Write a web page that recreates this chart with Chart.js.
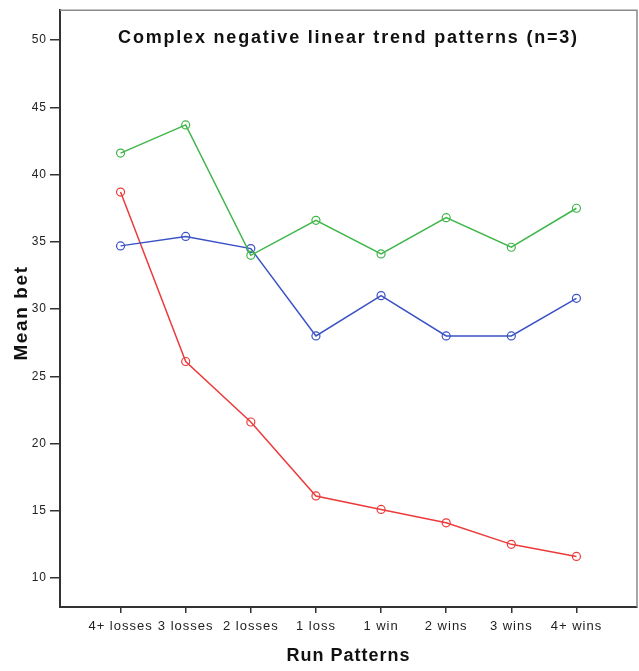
<!DOCTYPE html>
<html>
<head>
<meta charset="utf-8">
<script src="https://cdn.jsdelivr.net/npm/chart.js@4.4.0/dist/chart.umd.min.js"></script>
<style>
  html, body { margin: 0; padding: 0; background: #fff; }
  #wrap { width: 639px; height: 671px; }
</style>
</head>
<body>
<div id="wrap"><canvas id="chart" width="639" height="671"></canvas></div>
<script>
const runPatterns = ["4+ losses", "3 losses", "2 losses", "1 loss", "1 win", "2 wins", "3 wins", "4+ wins"]
const greenSeries = [41.6, 43.7, 34.0, 36.6, 34.1, 36.8, 34.6, 37.5]
const blueSeries = [34.7, 35.4, 34.5, 28.0, 31.0, 28.0, 28.0, 30.8]
const redSeries = [38.7, 26.1, 21.6, 16.1, 15.1, 14.1, 12.5, 11.6]
const yTicks = [10, 15, 20, 25, 30, 35, 40, 45, 50]

const FONT = "'Liberation Sans', Arial, Helvetica, sans-serif"

function toPoints(values) {
  return values.map((v, i) => ({ x: i, y: v }))
}

function makeSet(values, color) {
  return {
    data: toPoints(values),
    borderColor: color,
    backgroundColor: "rgba(0,0,0,0)",
    borderWidth: 1.5,
    pointStyle: "circle",
    pointRadius: 4,
    pointBorderWidth: 1.2,
    pointBorderColor: color,
    pointBackgroundColor: "rgba(0,0,0,0)",
    tension: 0,
  }
}

// the SPSS text is set a little wide, so space the letters out
const spacingPlugin = {
  id: "spacing",
  beforeDraw(chart) {
    chart.ctx.letterSpacing = "1px"
  },
}

// title sits inside the plot box, y title drawn by hand, light top/right frame
const boxPlugin = {
  id: "box",
  afterDraw(chart) {
    const { ctx, chartArea } = chart
    ctx.save()
    ctx.strokeStyle = "#8a8a8a"
    ctx.lineWidth = 1.5
    ctx.beginPath()
    ctx.moveTo(chartArea.left, chartArea.top)
    ctx.lineTo(chartArea.right, chartArea.top)
    ctx.lineTo(chartArea.right, chartArea.bottom)
    ctx.stroke()

    ctx.fillStyle = "#111"
    ctx.font = "bold 18px " + FONT
    ctx.letterSpacing = "1.8px"
    ctx.textAlign = "center"
    ctx.textBaseline = "middle"
    ctx.fillText("Complex negative linear trend patterns (n=3)", (chartArea.left + chartArea.right) / 2, 38)

    ctx.translate(22, 313)
    ctx.rotate(-Math.PI / 2)
    ctx.font = "bold 19px " + FONT
    ctx.letterSpacing = "1.6px"
    ctx.fillText("Mean bet", 0, 0)
    ctx.restore()
  },
}

new Chart(document.getElementById("chart").getContext("2d"), {
  type: "line",
  data: {
    datasets: [
      makeSet(greenSeries, "#3fb64a"),
      makeSet(blueSeries, "#3a52c4"),
      makeSet(redSeries, "#ec3b3b"),
    ],
  },
  plugins: [spacingPlugin, boxPlugin],
  options: {
    responsive: false,
    animation: false,
    layout: { autoPadding: false, padding: { top: 10, right: 2, left: 0, bottom: 0 } },
    plugins: {
      legend: { display: false },
      tooltip: { enabled: false },
    },
    scales: {
      x: {
        type: "linear",
        min: -0.93,
        max: 7.93,
        afterBuildTicks: axis => {
          axis.ticks = runPatterns.map((_, i) => ({ value: i }))
        },
        afterFit: axis => {
          axis.height = 64
          axis.paddingLeft = 0
          axis.paddingRight = 0
        },
        ticks: {
          autoSkip: false,
          maxRotation: 0,
          color: "#222",
          font: { family: FONT, size: 13 },
          padding: 6,
          callback: value => runPatterns[value],
        },
        grid: {
          display: true,
          drawOnChartArea: false,
          drawTicks: true,
          tickLength: 6,
          color: "#333",
          lineWidth: 1.5,
        },
        border: { display: true, color: "#333", width: 2 },
        title: {
          display: true,
          text: "Run Patterns",
          color: "#111",
          font: { family: FONT, size: 18, weight: "bold" },
          padding: { top: 3 },
        },
      },
      y: {
        min: 7.84,
        max: 52.23,
        afterBuildTicks: axis => {
          axis.ticks = yTicks.map(v => ({ value: v }))
        },
        afterFit: axis => {
          axis.width = 60
        },
        ticks: {
          color: "#222",
          font: { family: FONT, size: 12 },
          padding: 3,
        },
        grid: {
          display: true,
          drawOnChartArea: false,
          drawTicks: true,
          tickLength: 10,
          color: "#333",
          lineWidth: 1.5,
        },
        border: { display: true, color: "#333", width: 2 },
        title: { display: false },
      },
    },
  },
})
</script>
</body>
</html>
